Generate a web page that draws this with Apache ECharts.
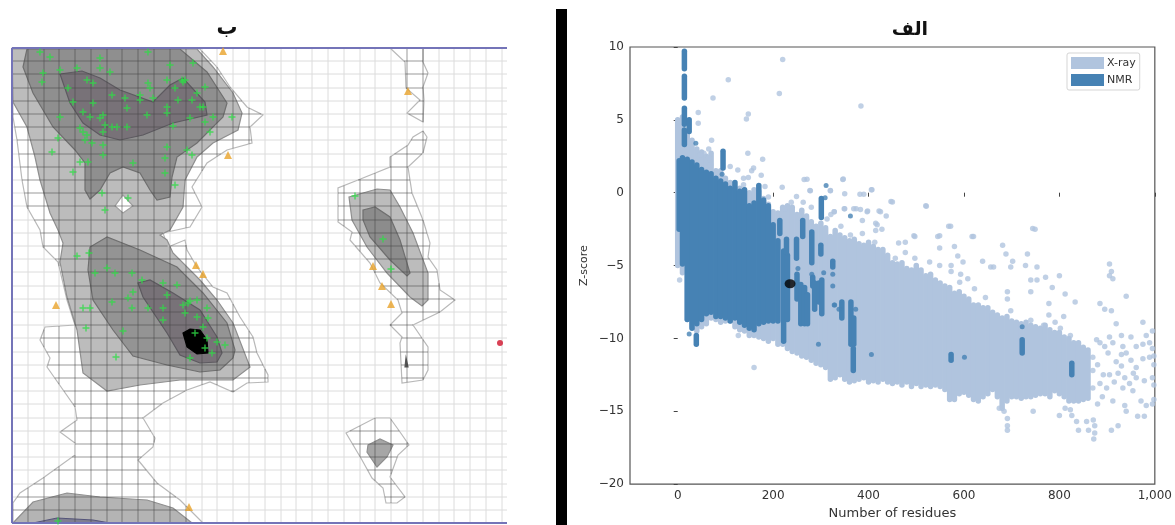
<!DOCTYPE html>
<html><head><meta charset="utf-8">
<style>html,body{margin:0;padding:0;background:#fff}#main{width:1175px;height:525px;filter:blur(0.45px)}</style>
<script src="https://cdn.jsdelivr.net/npm/echarts@6/dist/echarts.min.js"></script>
</head><body><div id="main"></div>
<script>
// ---------- Right panel: Z-score against number of residues ----------
const xrayColX = [0,10,20,30,40,50,60,70,80,90,100,110,120,130,140,150,160,170,180,190,200,210,220,230,240,250,260,270,280,290,300,310,320,330,340,350,360,370,380,390,400,410,420,430,440,450,460,470,480,490,500,510,520,530,540,550,560,570,580,590,600,610,620,630,640,650,660,670,680,690,700,710,720,730,740,750,760,770,780,790,800,810,820,830,840,850,860];
const xrayHigh = [5,5.2,4.2,3.6,3,2.8,2.5,2.7,1.5,1.5,1,0.7,0.3,0.3,0.2,0,0.2,0.1,-0.4,-0.8,-1.3,-1.4,-1,-0.9,-1,-1.5,-1.2,-1.6,-2,-2.3,-2.1,-2.4,-3,-2.6,-2.9,-3.1,-3.3,-3.2,-3.5,-3.6,-3.4,-3.7,-3.9,-3.9,-4.3,-4.8,-4.9,-4.8,-5.2,-5.3,-5,-5.3,-5.7,-5.6,-6,-6.2,-6.4,-6.5,-6.9,-6.8,-7.1,-7.3,-7.7,-7.7,-7.9,-7.9,-8.2,-8.4,-8.6,-8.5,-8.8,-8.9,-9,-8.9,-9.1,-9.2,-9.3,-9.1,-9.4,-9.6,-9.6,-9.9,-10,-10.3,-10.3,-10.6,-10.8];
const xrayLow = [-5,-5.5,-8.7,-9.2,-9.5,-9.2,-9,-8.6,-8.7,-8.9,-8.8,-8.8,-9.2,-9.4,-9.5,-9.8,-9.8,-9.9,-10,-10.2,-10,-10.4,-10.4,-10.7,-10.9,-11,-11.2,-11.3,-11.5,-11.7,-11.8,-12,-12.8,-12.7,-12.5,-12.8,-13,-12.9,-12.8,-12.7,-13,-12.9,-13,-12.8,-13,-13.1,-13,-13.2,-13,-13.3,-13.1,-13.3,-13.2,-13.3,-13.2,-13.3,-13.5,-14.2,-14.2,-13.8,-13.7,-13.9,-14.2,-14.3,-14,-13.8,-13.5,-14,-14.8,-14.3,-14,-14,-14.1,-14,-14,-13.9,-13.8,-13.8,-14,-13.6,-13.8,-14,-14.3,-14.3,-14.3,-14.2,-14.1];
const xrayPoints = [[220,9.15],[106,7.75],[74,6.5],[213,6.8],[148,5.4],[144,5.05],[43,5.5],[43,4.76],[71,3.6],[147,2.7],[178,2.3],[110,1.8],[126,1.56],[159,1.7],[155,1.5],[175,1.2],[148,1.04],[138,1],[138,0.55],[219,0.37],[183,0.43],[271,0.93],[278,0.14],[320,0.14],[280,-1],[249,-0.26],[238,-0.65],[263,-0.65],[328,-1.3],[224,-1.1],[190,-0.3],[55,2.7],[65,3],[65,2.4],[69,1.9],[48,2.6],[265,0.9],[346,0.9],[406,0.2],[382,-0.1],[447,-0.6],[520,-0.9],[277,0.15],[350,-1.1],[374,-1.1],[398,-1.25],[422,-1.25],[568,-2.3],[744,-2.45],[617,-3],[495,-2.95],[545,-3],[384,5.95],[160,-12],[127,-9.8],[4,-6],[321,-1.5],[313,-1.8],[415,-2.1],[415,-2.6],
[347,0.94],[320,0.15],[350,-0.08],[390,-0.1],[407,0.2],[450,-0.64],[521,-0.93],[328,-1.3],[349,-1.1],[369,-1.1],[383,-1.16],[397,-1.3],[425,-1.3],[437,-1.6],[387,-1.9],[418,-2.2],[428,-2.5],[342,-2.3],[362,-2.9],[387,-2.8],[413,-3.4],[572,-2.3],[549,-2.96],[620,-3],[497,-3],[477,-3.4],[463,-3.45],[549,-3.8],[580,-3.7],[477,-4.1],[456,-4.5],[497,-4.5],[587,-4.35],[598,-4.76],[528,-4.76],[639,-4.7],[656,-5.1],[573,-5],[573,-5.4],[593,-5.6],[608,-5.9],[622,-6.6],[645,-7.2],[591,-6.15],[549,-5],
[749,-2.5],[681,-3.6],[688,-4.2],[702,-4.7],[698,-5.1],[662,-5.1],[733,-4.2],[729,-5],[753,-5.1],[753,-6],[740,-6],[771,-5.8],[800,-5.7],[785,-6.5],[812,-6.95],[740,-6.8],[691,-6.8],[691,-7.3],[833,-7.5],[778,-7.6],[698,-8.1],[778,-8.4],[809,-8.5],[740,-8.75],[791,-8.9],[802,-9.3],[823,-9.8],[767,-9.1],
[878,-10.1],[885,-10.3],[895,-10.55],[902,-11],[885,-7.6],[895,-8],[909,-8.1],[919,-9],[940,-7.1],[975,-8.9],[905,-4.9],[909,-5.4],[905,-5.7],[912,-5.9],[905,-9.9],[930,-9.8],[950,-9.9],[982,-9.8],[995,-9.5],[912,-10.3],[933,-10.55],[930,-11.1],[940,-11],[961,-10.55],[975,-10.4],[989,-10.3],[995,-10.7],[919,-11.6],[930,-11.9],[961,-12],[975,-11.4],[989,-11.3],[892,-12.5],[905,-12.5],[923,-12.4],[937,-12.7],[947,-13.1],[961,-12.7],[978,-12.9],[995,-12.7],[885,-13.1],[899,-13.4],[912,-14.3],[933,-13.4],[954,-13.6],[971,-14.3],[982,-14.6],[995,-14.5],[937,-14.6],[940,-15],[964,-15.35],[978,-15.35],[923,-16],[909,-16.3],
[871,-15.6],[874,-16],[874,-16.5],[872,-16.9],[861,-16.3],[857,-15.7],[840,-16.3],[836,-15.7],[823,-14.9],[826,-15.3],[812,-14.8],[800,-15.3],[745,-15],[691,-15.5],[691,-16],[691,-16.3],[684,-15],[674,-14.8],[870,-11.3],[870,-12.2],[880,-11.8],[870,-13.4],[890,-14],[880,-14.5],[998,-11.2],[998,-11.8],[998,-13.2],[998,-14.2],[950,-11.5],[915,-13],[955,-12.4]];
const nmrColX = [3,10,20,30,40,50,60,70,80,90,100,110,120,130,140,150,160,170,180,190,200,210,222,230,14,14,14,24,14,95,39,301,214,262,281,300,249,228,325,250,258,266,272,283,287,296,302,344,363,369,368,573,722,826];
const nmrHigh = [2.2,2.4,2.3,2.1,1.9,1.6,1.4,1.3,1,0.8,0.6,0.3,0.7,0.1,0.2,-0.9,-0.7,0.5,-0.5,-0.9,-2.2,-3.3,-4,-4.3,9.7,8,5.8,5,4.3,2.85,-9.8,-0.4,-1.9,-1.9,-2.7,-3.6,-3.2,-3.2,-4.7,-5.6,-6.3,-6.5,-7,-5.8,-6.2,-6.2,-6,-7.5,-7.5,-8.6,-10.7,-11.1,-10.1,-11.7];
const nmrLow = [-2.5,-4.9,-8.7,-9.3,-9,-8.7,-8.3,-8.2,-8.5,-8.5,-8.6,-8.8,-8.6,-8.9,-9.1,-9.3,-9.4,-9,-8.9,-8.8,-8.8,-8.8,-10.2,-8.7,8.5,6.5,4.7,4.2,3.3,1.7,-10.4,-1.7,-2.8,-3,-4.8,-4.2,-4.5,-4.1,-5.1,-7.3,-9,-9,-9,-6.4,-8,-7.5,-8.3,-8.6,-10.4,-10.4,-12.2,-11.5,-11,-12.5];
const nmrPoints = [[38,3.4],[93,1.27],[311,0.5],[309,-0.35],[362,-1.6],[722,-9.2],[406,-11.1],[601,-11.3],[295,-10.4],[328,-7.7],[306,-5.5],[281,-5.6],[252,-5.2],[325,-5.6],[325,-6.4],[329,-7.7],[338,-8],[373,-8],[24,-9.7]];
const queryPoint = [[235.5,-6.25]];
const xTickValues = [0,200,400,600,800,1000];

// ---------- Left panel: plot units are the panel's own scale (no ticks printed) ----------
const gridXs = [28,44,59,75,91,107,122,138,154,170,186,202,217,233,249,265,281,296,312,328,344,360,375,391,407,423,439,454,470,486,502];
const gridYs = [61,74,88,101,114,127,140,154,167,180,193,206,220,233,246,259,272,286,299,312,325,338,352,365,378,391,404,418,431,444,457,470,484,497,510];
const outerMain = [[12,48],[200,49],[217,67],[230,87],[247,107],[263,115],[250,127],[252,143],[227,150],[207,163],[192,187],[202,207],[190,227],[163,233],[168,247],[185,240],[187,250],[197,267],[213,287],[227,293],[240,317],[253,337],[257,353],[268,375],[268,382],[247,383],[233,392],[210,382],[187,390],[163,403],[143,418],[155,438],[153,447],[138,460],[157,483],[180,500],[203,523],[13,523],[13,503],[20,493],[43,478],[75,455],[75,443],[60,432],[77,420],[75,407],[47,367],[50,358],[40,340],[45,327],[75,325],[67,300],[58,262],[43,247],[40,230],[27,207],[22,180],[17,140],[13,117]];
const outerTopRight = [[390,48],[405,62],[406,88],[420,100],[407,113],[423,122],[424,100],[423,87],[428,73],[423,62],[423,48]];
const outerMidRight = [[423,131],[427,137],[423,153],[408,167],[412,193],[423,220],[430,243],[428,257],[437,270],[440,290],[455,300],[440,312],[413,325],[428,347],[428,370],[423,380],[402,383],[400,343],[402,337],[390,325],[402,313],[398,300],[380,283],[370,263],[350,240],[352,232],[338,222],[338,188],[358,180],[390,167],[390,157],[408,145],[413,137]];
const outerBottomRight = [[375,418],[390,418],[400,432],[409,445],[398,455],[390,477],[405,497],[397,503],[386,503],[383,488],[372,478],[362,460],[346,433]];
const allowedTop = [[12,49],[197,49],[213,67],[233,93],[242,113],[238,130],[213,143],[197,157],[185,180],[183,207],[170,230],[160,235],[167,240],[173,253],[200,280],[217,300],[233,323],[250,367],[233,380],[180,380],[140,385],[107,391],[83,373],[77,330],[67,297],[60,262],[63,243],[58,230],[50,213],[40,180],[35,157],[27,127],[13,102]];
const favouredTop = [[27,49],[23,67],[33,93],[53,127],[75,150],[85,163],[85,190],[90,199],[100,190],[110,173],[123,167],[140,173],[150,190],[157,200],[170,197],[172,177],[177,157],[197,143],[223,117],[227,103],[207,72],[180,49]];
const coreTop = [[60,74],[82,71],[100,78],[120,90],[153,102],[170,85],[183,78],[205,102],[207,115],[173,123],[143,135],[120,140],[100,135],[83,123],[70,103]];
const holeDiamond = [[123,195],[133,206],[123,213],[115,206]];
const favouredLow = [[107,237],[90,247],[88,270],[93,300],[113,330],[133,356],[167,365],[200,372],[220,370],[233,358],[235,350],[227,323],[203,293],[177,267],[140,250]];
const coreLow = [[138,283],[143,297],[167,333],[180,355],[200,363],[217,362],[222,353],[217,337],[200,310],[173,293],[150,280]];
const peakLow = [[183,333],[190,329],[200,330],[207,340],[208,353],[197,354],[187,347]];
const allowedBottom = [[13,523],[33,502],[67,493],[100,497],[147,500],[173,508],[192,523]];
const favouredBottom = [[33,523],[57,518],[93,520],[110,523]];
const allowedMidRight = [[349,197],[377,189],[390,190],[400,207],[413,233],[428,273],[428,300],[422,306],[410,297],[387,273],[367,247],[352,220]];
const favouredMidRight = [[363,210],[375,207],[390,217],[400,240],[410,273],[407,276],[390,260],[370,237],[363,220]];
const speckRight = [[405,367],[406,358],[408,367]];
const allowedBottomRight = [[368,445],[380,439],[393,445],[387,457],[377,467],[367,452]];
const residuesFavoured = [[40,52],[50,57],[100,58],[148,52],[193,63],[43,73],[42,82],[60,70],[77,68],[100,68],[110,72],[68,88],[87,80],[93,83],[73,102],[83,112],[93,103],[112,95],[125,98],[127,108],[60,117],[100,118],[103,115],[112,127],[127,127],[117,127],[83,132],[87,135],[103,132],[147,115],[153,98],[140,95],[148,83],[167,80],[183,82],[192,100],[200,107],[203,107],[185,80],[167,107],[167,113],[190,118],[205,122],[213,117],[232,117],[210,132],[173,126],[58,138],[52,152],[92,143],[103,145],[103,155],[167,147],[165,158],[187,150],[192,155],[80,162],[88,162],[133,163],[165,173],[73,172],[175,185],[102,193],[128,198],[105,210],[77,256],[89,253],[178,100],[197,93],[205,87],[170,65],[182,80],[175,88],[90,117],[80,128],[105,125],[85,140],[150,88],[140,100],
[95,273],[107,268],[115,273],[132,273],[142,280],[163,283],[177,285],[167,295],[133,292],[128,298],[112,302],[132,308],[148,308],[163,308],[163,320],[185,313],[188,303],[197,300],[207,308],[197,317],[208,318],[203,327],[195,333],[207,338],[205,348],[217,342],[225,345],[212,353],[190,358],[83,308],[90,308],[86,328],[123,331],[116,357],[58,521],[183,305],[190,301],[355,196],[383,239],[391,269]];
const residuesOutlier = [[223,51],[228,155],[408,91],[373,266],[382,286],[391,304],[196,265],[203,274],[56,305],[189,507]];
const residuesDisallowed = [[500,343]];
const frameLeft = [[[12,48],[507,48]],[[12,48],[12,523]],[[12,523],[507,523]]];

const outers = [outerMain,outerTopRight,outerMidRight,outerBottomRight];
const shades = [
  [outerMain,'#ffffff','#b9b9b9'],[outerTopRight,'#ffffff','#b9b9b9'],[outerMidRight,'#ffffff','#b9b9b9'],[outerBottomRight,'#ffffff','#b9b9b9'],
  [allowedTop,'#bcbcbc','#8f8f8f'],[allowedBottom,'#b4b4b4','#8f8f8f'],[allowedMidRight,'#bcbcbc','#8f8f8f'],[allowedBottomRight,'#a6a6a6','#8f8f8f'],
  [favouredTop,'#8f8f8f','#6f6f6f'],[favouredLow,'#949494','#6f6f6f'],[favouredBottom,'#7f7f90','#55557a'],[favouredMidRight,'#8c8c8c','#6f6f6f'],[speckRight,'#555555','#555555'],
  [coreTop,'#787278','#5d5a60'],[coreLow,'#787278','#5d5a60'],[holeDiamond,'#ffffff','#a0a0a0']
];

function crossings(poly, vertical, v){
  const out=[];
  for(let i=0;i<poly.length;i++){
    const a=poly[i],b=poly[(i+1)%poly.length];
    const p=vertical?0:1,q=vertical?1:0;
    if((a[p]<v)!==(b[p]<v)) out.push(a[q]+(v-a[p])*(b[q]-a[q])/(b[p]-a[p]));
  }
  return out.sort((m,n)=>m-n);
}
function gridSegments(){
  const segs=[];
  outers.forEach(poly=>{
    gridXs.forEach(x=>{const c=crossings(poly,true,x);for(let i=0;i+1<c.length;i+=2)segs.push([[x,c[i]],[x,c[i+1]]]);});
    gridYs.forEach(y=>{const c=crossings(poly,false,y);for(let i=0;i+1<c.length;i+=2)segs.push([[c[i],y],[c[i+1],y]]);});
  });
  return segs;
}
function lineGroup(api,segs,color,width){
  return {type:'group',children:segs.map(s=>{
    const a=api.coord(s[0]),b=api.coord(s[1]);
    return {type:'line',shape:{x1:a[0],y1:a[1],x2:b[0],y2:b[1]},style:{stroke:color,lineWidth:width,fill:null}};
  }),silent:true};
}
const lightSegs = gridXs.map(x=>[[x,48],[x,523]]).concat(gridYs.map(y=>[[12,y],[507,y]]));
const darkSegs = gridSegments();

function oneShot(render){
  return {type:'custom',coordinateSystem:'cartesian2d',xAxisIndex:0,yAxisIndex:0,silent:true,clip:false,data:[[12,48]],renderItem:render};
}
function polySeries(list){
  return {type:'custom',coordinateSystem:'cartesian2d',xAxisIndex:0,yAxisIndex:0,silent:true,clip:false,
    data:list.map(s=>s[0][0]),
    renderItem:(p,api)=>{const s=list[p.dataIndex];
      return {type:'polygon',shape:{points:s[0].map(pt=>api.coord(pt))},style:{fill:s[1],stroke:s[2],lineWidth:1.2}};}};
}
function columnSeries(name,colX,low,high,color,width,z){
  return {name,type:'custom',coordinateSystem:'cartesian2d',xAxisIndex:1,yAxisIndex:1,silent:true,z,
    itemStyle:{color},
    data:colX.map((x,i)=>[x,low[i],high[i]]),
    encode:{x:0,y:[1,2]},
    renderItem:(p,api)=>{const x=api.value(0),a=api.coord([x,api.value(1)]),b=api.coord([x,api.value(2)]);
      return {type:'line',shape:{x1:a[0],y1:a[1],x2:b[0],y2:b[1]},style:{stroke:color,lineWidth:width,lineCap:'round',fill:null}};}};
}
const XRAY='#b0c4de',NMR='#4682b4',FONT='"DejaVu Sans"';
const plus='path://M4 0h2v4h4v2H6v4H4V6H0V4h4z';
const option={
  animation:false,backgroundColor:'#fff',
  title:[
    {text:'ب',left:222,top:13,textAlign:'center',textStyle:{fontFamily:FONT,fontSize:21,fontWeight:'bold',color:'#111'}},
    {text:'الف',left:905,top:16,textAlign:'center',textStyle:{fontFamily:FONT,fontSize:19,fontWeight:'bold',color:'#111'}}
  ],
  legend:{orient:'vertical',left:1067,top:53,width:86,padding:[4,4,4,4],itemGap:5,itemWidth:33,itemHeight:12,icon:'rect',
    data:['X-ray','NMR'],selectedMode:false,backgroundColor:'#fff',borderColor:'#d5d5d5',borderWidth:1,borderRadius:2,
    textStyle:{fontFamily:FONT,fontSize:11,color:'#333',padding:[0,0,0,-2]}},
  grid:[
    {left:12,top:48,width:495,height:475,show:false},
    {left:630,top:47,width:531,height:445,show:true,borderColor:'#555',borderWidth:1.2,backgroundColor:'#fff'}
  ],
  xAxis:[
    {gridIndex:0,type:'value',min:12,max:507,show:false,splitLine:{show:false}},
    {gridIndex:1,type:'value',min:-100,max:1000,position:'bottom',splitLine:{show:false},
     axisLine:{show:false},
     axisTick:{show:true,length:4,lineStyle:{color:'#444'},customValues:xTickValues},
     axisLabel:{show:true,customValues:xTickValues,fontFamily:FONT,fontSize:12,color:'#333',margin:6,hideOverlap:false},
     name:'Number of residues',nameLocation:'middle',nameGap:22,nameTextStyle:{fontFamily:FONT,fontSize:13,color:'#333'}}
  ],
  yAxis:[
    {gridIndex:0,type:'value',min:48,max:523,inverse:true,show:false,splitLine:{show:false}},
    {gridIndex:1,type:'value',min:-20,max:10,interval:5,splitLine:{show:false},
     axisLine:{show:false},axisTick:{show:true,length:4,lineStyle:{color:'#444'}},
     axisLabel:{fontFamily:FONT,fontSize:12,color:'#333',margin:6,formatter:v=>String(v).replace('-','\u2212')},
     name:'Z-score',nameLocation:'middle',nameGap:40,nameTextStyle:{fontFamily:FONT,fontSize:11,color:'#333'}}
  ],
  graphic:[{type:'rect',left:556,top:9,shape:{width:11,height:516},style:{fill:'#000'},silent:true}],
  series:[
    Object.assign(oneShot((p,api)=>lineGroup(api,lightSegs,'#dcdcdc',1)),{z:1}),
    Object.assign(polySeries(shades),{z:2}),
    Object.assign(oneShot((p,api)=>lineGroup(api,darkSegs,'rgba(70,70,70,0.55)',1)),{z:3}),
    Object.assign(polySeries([[peakLow,'#000','#000']]),{z:4}),
    Object.assign(oneShot((p,api)=>lineGroup(api,frameLeft,'#7474b8',2)),{z:5}),
    {type:'scatter',xAxisIndex:0,yAxisIndex:0,symbol:plus,symbolSize:7,z:6,silent:true,itemStyle:{color:'#2fdc47'},data:residuesFavoured},
    {type:'scatter',xAxisIndex:0,yAxisIndex:0,symbol:'triangle',symbolSize:8,z:6,silent:true,itemStyle:{color:'#e8a32b'},data:residuesOutlier},
    {type:'scatter',xAxisIndex:0,yAxisIndex:0,symbol:'circle',symbolSize:6,z:6,silent:true,itemStyle:{color:'#d0112b'},data:residuesDisallowed},
    columnSeries('X-ray',xrayColX,xrayLow,xrayHigh,XRAY,5.5,2),
    {name:'X-ray',type:'scatter',xAxisIndex:1,yAxisIndex:1,symbolSize:5.5,z:2,silent:true,itemStyle:{color:XRAY},data:xrayPoints},
    columnSeries('NMR',nmrColX,nmrLow,nmrHigh,NMR,5.5,3),
    {name:'NMR',type:'scatter',xAxisIndex:1,yAxisIndex:1,symbolSize:5,z:3,silent:true,itemStyle:{color:NMR},data:nmrPoints},
    {type:'scatter',xAxisIndex:1,yAxisIndex:1,symbol:'circle',symbolSize:[11,9],z:4,silent:true,itemStyle:{color:'#000'},data:queryPoint}
  ]
};
const chart=echarts.init(document.getElementById('main'),null,{renderer:'canvas'});
chart.setOption(option);
</script></body></html>
